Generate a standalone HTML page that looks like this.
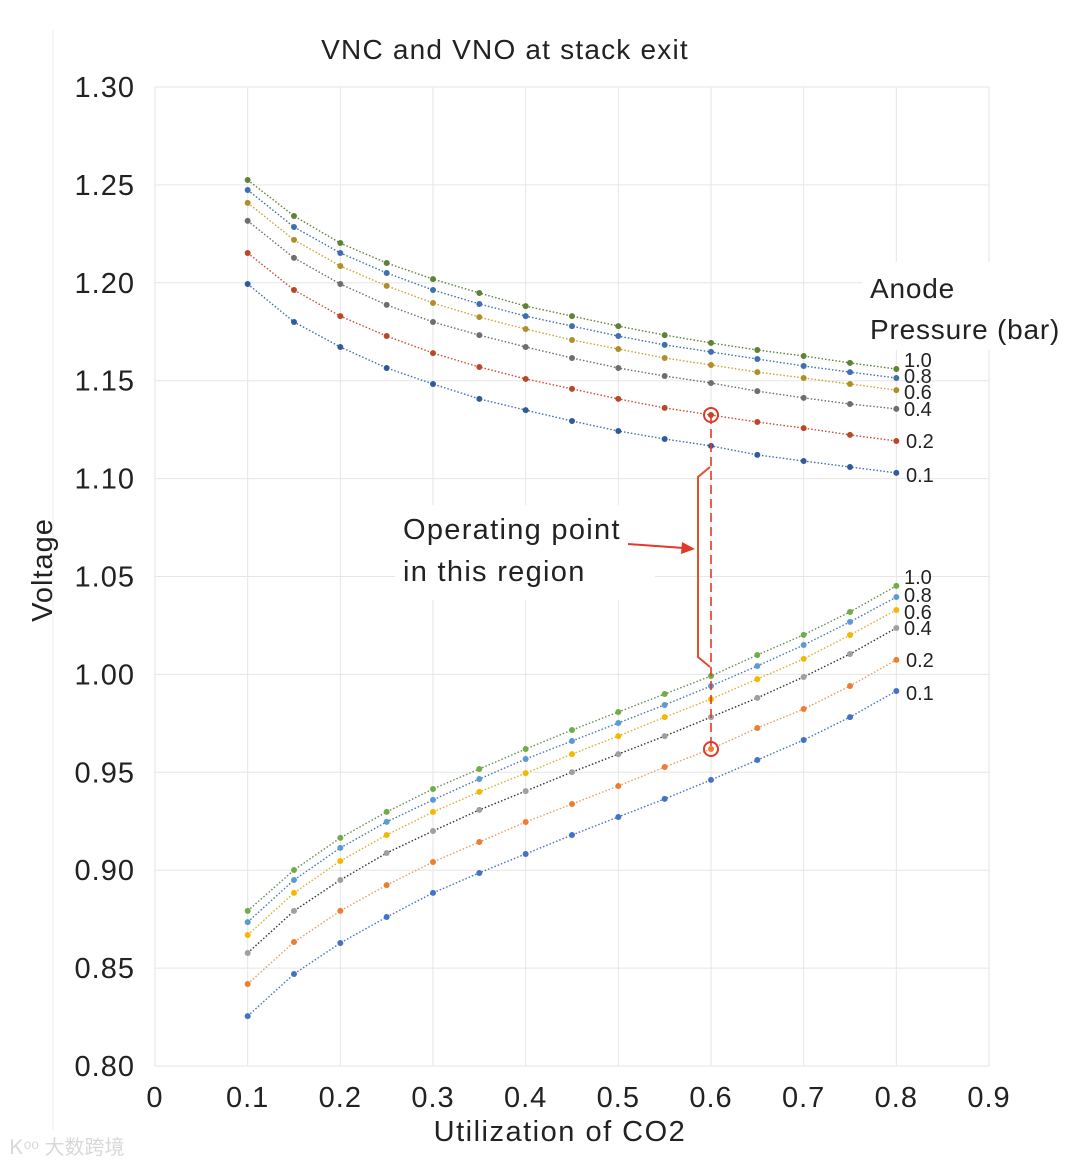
<!DOCTYPE html>
<html><head><meta charset="utf-8"><style>
html,body{margin:0;padding:0;background:#fff;}
svg{display:block;font-family:"Liberation Sans","Noto Sans CJK SC",sans-serif;}
</style></head><body>
<svg id="chart" width="1080" height="1165" viewBox="0 0 1080 1165">
<line x1="53" y1="30" x2="53" y2="1130" stroke="#ececec" stroke-width="1"/>
<g id="grid"></g>
<g id="series"></g>
<g id="ticks"></g>
<text x="505" y="59" font-size="28" letter-spacing="1.2" text-anchor="middle" fill="#222">VNC and VNO at stack exit</text>
<text transform="translate(52,570) rotate(-90)" font-size="29" letter-spacing="1" text-anchor="middle" fill="#222">Voltage</text>
<text x="560" y="1141" font-size="29" letter-spacing="1.5" text-anchor="middle" fill="#222">Utilization of CO2</text>
<rect x="862" y="262" width="200" height="88" fill="#fff"/>
<text x="870" y="298" font-size="28" letter-spacing="0.8" fill="#222">Anode</text>
<text x="870" y="339" font-size="28" letter-spacing="0.8" fill="#222">Pressure (bar)</text>
<g id="ann">
<rect x="395" y="505" width="260" height="95" fill="#fff"/>
<text x="403" y="539" font-size="29" letter-spacing="1.3" fill="#222">Operating point</text>
<text x="403" y="581" font-size="29" letter-spacing="1.3" fill="#222">in this region</text>
<line x1="628" y1="544" x2="684" y2="548" stroke="#e03a2a" stroke-width="2"/>
<polygon points="695,549 682,542 681,554" fill="#e03a2a"/>
<path d="M710,467 L698,477 L698,657 L710,667" fill="none" stroke="#e0502a" stroke-width="2"/>
</g>
</svg>
<script>
const xTicks=[0,0.1,0.2,0.3,0.4,0.5,0.6,0.7,0.8,0.9];
const xTickLabels=["0","0.1","0.2","0.3","0.4","0.5","0.6","0.7","0.8","0.9"];
const yTicks=[0.80,0.85,0.90,0.95,1.00,1.05,1.10,1.15,1.20,1.25,1.30];
const yTickLabels=["0.80","0.85","0.90","0.95","1.00","1.05","1.10","1.15","1.20","1.25","1.30"];
const utilization=[0.1,0.15,0.2,0.25,0.3,0.35,0.4,0.45,0.5,0.55,0.6,0.65,0.7,0.75,0.8];
const pressureLabels=["1.0","0.8","0.6","0.4","0.2","0.1"];
const vnc10=[1.2525,1.2341,1.2203,1.2101,1.2019,1.1948,1.1881,1.1830,1.1779,1.1733,1.1693,1.1657,1.1626,1.1591,1.1560];
const vnc08=[1.2474,1.2285,1.2152,1.2050,1.1963,1.1892,1.1830,1.1779,1.1728,1.1683,1.1647,1.1611,1.1575,1.1544,1.1514];
const vnc06=[1.2408,1.2219,1.2086,1.1984,1.1897,1.1825,1.1764,1.1708,1.1662,1.1616,1.1580,1.1544,1.1514,1.1483,1.1452];
const vnc04=[1.2316,1.2127,1.1994,1.1887,1.1800,1.1733,1.1672,1.1616,1.1565,1.1524,1.1488,1.1447,1.1412,1.1381,1.1356];
const vnc02=[1.2152,1.1963,1.1830,1.1728,1.1641,1.1570,1.1509,1.1458,1.1407,1.1361,1.1325,1.1289,1.1258,1.1223,1.1192];
const vnc01=[1.1994,1.1800,1.1672,1.1565,1.1483,1.1407,1.1350,1.1294,1.1243,1.1202,1.1167,1.1121,1.1090,1.1059,1.1029];
const vno10=[0.8792,0.9001,0.9165,0.9298,0.9415,0.9517,0.9619,0.9716,0.9808,0.9900,0.9992,1.0099,1.0202,1.0319,1.0452];
const vno08=[0.8735,0.8950,0.9114,0.9247,0.9359,0.9466,0.9568,0.9660,0.9752,0.9844,0.9941,1.0043,1.0150,1.0268,1.0395];
const vno06=[0.8669,0.8884,0.9047,0.9180,0.9298,0.9400,0.9496,0.9593,0.9685,0.9782,0.9874,0.9976,1.0079,1.0201,1.0329];
const vno04=[0.8577,0.8792,0.8950,0.9088,0.9200,0.9308,0.9404,0.9501,0.9593,0.9685,0.9782,0.9880,0.9987,1.0104,1.0237];
const vno02=[0.8419,0.8633,0.8792,0.8924,0.9042,0.9144,0.9246,0.9338,0.9430,0.9527,0.9619,0.9726,0.9823,0.9941,1.0074];
const vno01=[0.8255,0.8470,0.8628,0.8761,0.8884,0.8986,0.9083,0.9180,0.9272,0.9364,0.9461,0.9563,0.9665,0.9782,0.9915];
const opUtil=0.6;

const NS="http://www.w3.org/2000/svg";
const X0=155,X1=989,Y0=1066,Y1=87;
function xs(v){return X0+(v-0)/(0.9-0)*(X1-X0);}
function ys(v){return Y0-(v-0.8)/(1.3-0.8)*(Y0-Y1);}
function mk(tag,attrs,parent){const e=document.createElementNS(NS,tag);for(const k in attrs)e.setAttribute(k,attrs[k]);parent.appendChild(e);return e;}
const grid=document.getElementById('grid'),ticks=document.getElementById('ticks'),ser=document.getElementById('series');
xTicks.forEach((t,i)=>{
 const l=mk('line',{x1:xs(t),x2:xs(t),y1:Y1,y2:Y0,stroke:'#e6e6e6','stroke-width':1},grid);
 
 
 const tx=mk('text',{x:xs(t),y:1107,'font-size':29,'letter-spacing':1,'text-anchor':'middle',fill:'#222'},ticks);
 tx.textContent=xTickLabels[i];
 
 
});
yTicks.forEach((t,i)=>{
 const l=mk('line',{x1:X0,x2:X1,y1:ys(t),y2:ys(t),stroke:'#e6e6e6','stroke-width':1},grid);
 
 
 const tx=mk('text',{x:135,y:ys(t)+10,'font-size':29,'letter-spacing':1,'text-anchor':'end',fill:'#222'},ticks);
 tx.textContent=yTickLabels[i];
 
 
});
const upper=[[vnc10,'#5e8236','#5e8236'],[vnc08,'#3f6fb0','#3f6fb0'],[vnc06,'#b08f2a','#c9a531'],[vnc04,'#6e6e6e','#6e6e6e'],[vnc02,'#b8482a','#d04a35'],[vnc01,'#2f5b9e','#3f6fb0']];
const lower=[[vno10,'#70ad47','#6a8a55'],[vno08,'#5b9bd5','#4a78b0'],[vno06,'#f5b800','#d9b030'],[vno04,'#a0a0a0','#333'],[vno02,'#ed7d31','#e89a6a'],[vno01,'#4472c4','#4472c4']];
function drawSet(set,prefix){
 set.forEach((s,si)=>{
  const d=s[0];
  const pts=d.map((v,i)=>xs(utilization[i]).toFixed(1)+','+ys(v).toFixed(1)).join(' ');
  const pl=mk('polyline',{points:pts,fill:'none',stroke:s[2],'stroke-width':1.4,'stroke-dasharray':'1.5 2'},ser);
  
  
  d.forEach((v,i)=>{
   const c=mk('circle',{cx:xs(utilization[i]),cy:ys(v),r:3,fill:s[1]},ser);
   
   
  });
 });
}
drawSet(upper,'vnc');drawSet(lower,'vno');
const upLabelY=[ys(vnc10[14])-2,ys(vnc08[14])+5,ys(vnc06[14])+9,ys(vnc04[14])+7,ys(vnc02[14])+7,ys(vnc01[14])+9];
const loLabelY=[ys(vno10[14])-2,ys(vno08[14])+5,ys(vno06[14])+9,ys(vno04[14])+7,ys(vno02[14])+7,ys(vno01[14])+9];
pressureLabels.forEach((p,i)=>{
 [[upLabelY,'vnc'],[loLabelY,'vno']].forEach(a=>{
  const t=mk('text',{x:i>=4?906:904,y:a[0][i],'font-size':20,fill:'#222'},ticks);
  t.textContent=p;
  
  
 });
});
const oi=utilization.indexOf(opUtil);
const ox=xs(opUtil),oy1=ys(vnc02[oi]),oy2=ys(vno02[oi]);
const dl=mk('line',{x1:ox,x2:ox,y1:oy1,y2:oy2,stroke:'#e03a2a','stroke-width':1.6,'stroke-dasharray':'9 5'},ser);


[oy1,oy2].forEach(y=>{
 const c=mk('circle',{cx:ox,cy:y,r:7,fill:'none',stroke:'#e03a2a','stroke-width':2},ser);
 
 
});
</script>
<div style="position:absolute;left:10px;top:1131px;font-family:'Liberation Sans','Noto Sans CJK SC',sans-serif;font-size:20px;color:#d8d8d8;">Ꮶᵒᵒ 大数跨境</div>
</body></html>
